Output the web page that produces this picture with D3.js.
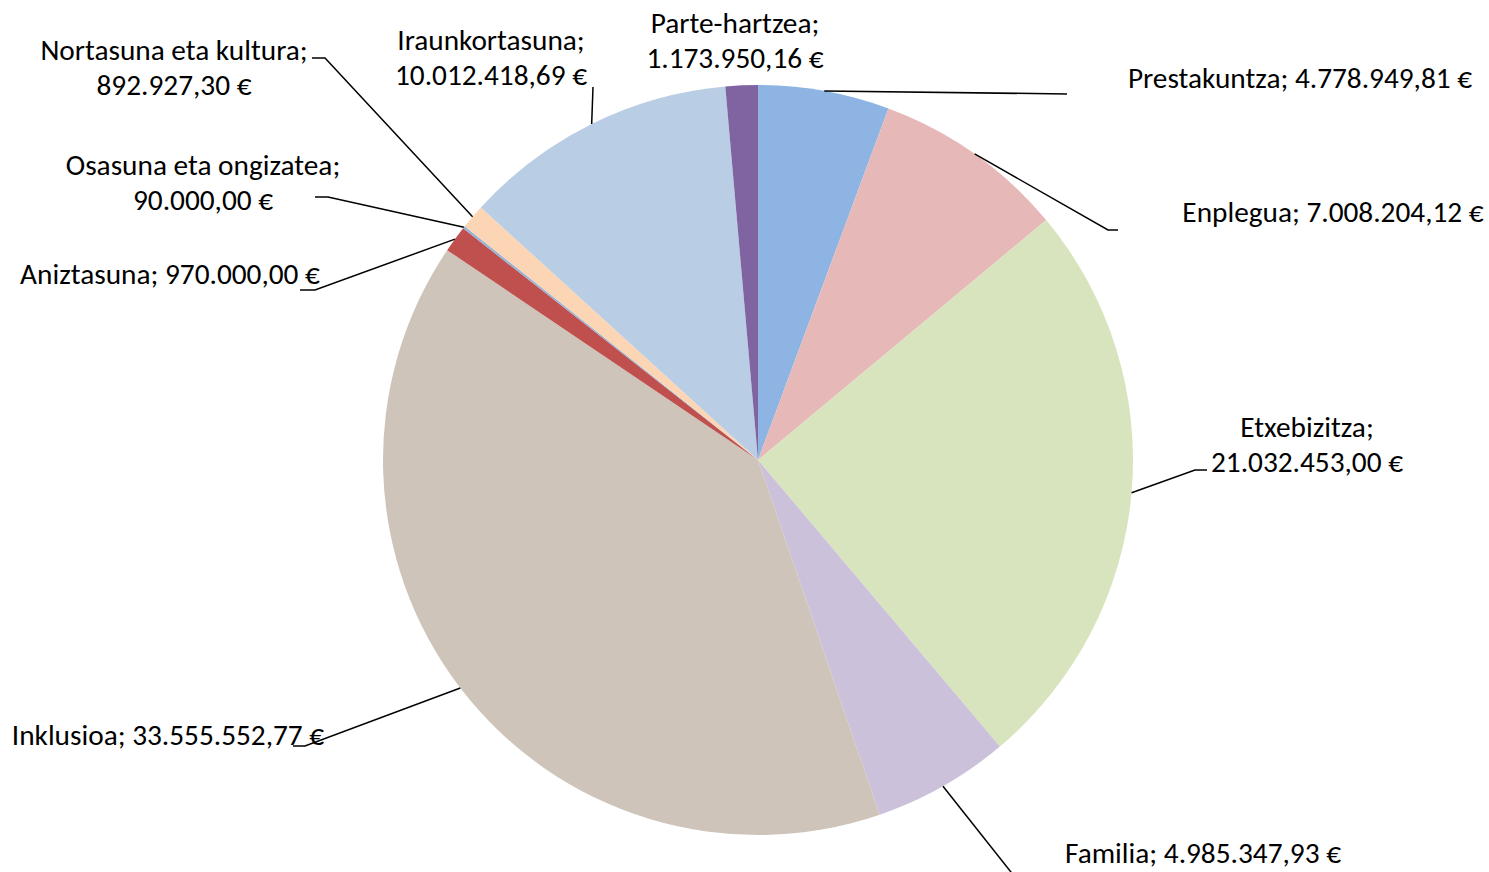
<!DOCTYPE html>
<html><head><meta charset="utf-8">
<script src="https://cdn.jsdelivr.net/npm/d3@7"></script>
<style>body{margin:0;background:#fff}svg{display:block}text{font-family:Carlito,Lato,"Liberation Sans",sans-serif;fill:#000}</style>
</head><body>
<svg id="chart" width="1489" height="872"></svg>
<script>
const categories = ["Prestakuntza","Enplegua","Etxebizitza","Familia","Inklusioa","Aniztasuna","Osasuna eta ongizatea","Nortasuna eta kultura","Iraunkortasuna","Parte-hartzea"];
const values = [4778949.81,7008204.12,21032453.00,4985347.93,33555552.77,970000.00,90000.00,892927.30,10012418.69,1173950.16];
const colors = ["#8EB4E3","#E6B9B8","#D7E4BD","#CCC1DA","#CEC4BA","#C0504D","#95B3D7","#FCD5B5","#B9CDE5","#8064A2"];

// label layout (positions of label blocks and leader elbows), in pixels
const labelLayout = [
  {cx:1300, cy:78,  lines:1, elbow:[1067,94], end:null},
  {cx:1333, cy:212, lines:1, elbow:[1108,230], end:[1118,230]},
  {cx:1307, cy:444, lines:2, elbow:[1195,470], end:[1207,470]},
  {cx:1203, cy:853, lines:1, elbow:[1022,886], end:null},
  {cx:168,  cy:735, lines:1, elbow:[305,746], end:[293,746]},
  {cx:170,  cy:274, lines:1, elbow:[315,290], end:[300,290]},
  {cx:203,  cy:182, lines:2, elbow:[328,197], end:[315,197]},
  {cx:174,  cy:67,  lines:2, elbow:[325,58],  end:[312,58]},
  {cx:491,  cy:57,  lines:2, elbow:[593,87],  end:null},
  {cx:735,  cy:40,  lines:2, elbow:null,      end:null}
];

const svg = d3.select("#chart");
const cx = 758, cy = 460, R = 375;
const g = svg.append("g").attr("transform", `translate(${cx},${cy})`);

const data = categories.map((c,i)=>({name:c, value:values[i], color:colors[i], layout:labelLayout[i]}));
const pie = d3.pie().value(d=>d.value).sort(null).startAngle(0).endAngle(2*Math.PI);
const arcs = pie(data);
const arc = d3.arc().innerRadius(0).outerRadius(R);

g.selectAll("path.slice").data(arcs).join("path")
  .attr("class","slice").attr("d",arc).attr("fill",d=>d.data.color);

const loc = d3.formatLocale({decimal:",", thousands:".", grouping:[3], currency:["","\u00a0€"]});
const fmt = loc.format(",.2f");

// leader lines
arcs.forEach(a=>{
  const L = a.data.layout;
  if(!L.elbow) return;
  const mid = (a.startAngle+a.endAngle)/2;
  const p0 = [cx + R*Math.sin(mid), cy - R*Math.cos(mid)];
  const pts = [p0, L.elbow];
  if(L.end) pts.push(L.end);
  svg.append("path").attr("d", d3.line()(pts)).attr("fill","none")
    .attr("stroke","#000").attr("stroke-width",1.5);
});

// labels
const fs = 29.3, lh = 35.5;
arcs.forEach(a=>{
  const L = a.data.layout;
  const name = a.data.name + ";";
  const val = fmt(a.data.value) + " €";
  const t = svg.append("text").attr("text-anchor","middle").style("font-size",fs+"px");
  if(L.lines===1){
    t.append("tspan").attr("x",L.cx).attr("y",L.cy).attr("dy","0.35em").text(name+" "+val);
  } else {
    t.append("tspan").attr("x",L.cx).attr("y",L.cy - lh/2).attr("dy","0.35em").text(name);
    t.append("tspan").attr("x",L.cx).attr("y",L.cy + lh/2).attr("dy","0.35em").text(val);
  }
});
</script>
</body></html>
